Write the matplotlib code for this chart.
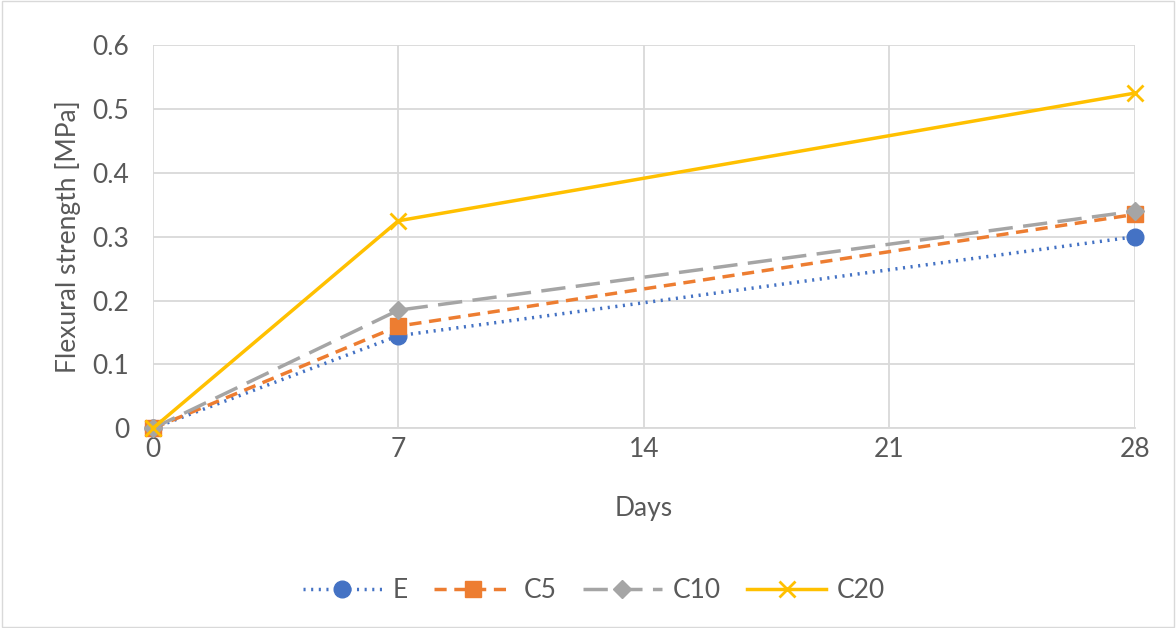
import matplotlib.pyplot as plt
import numpy as np

# dados
dias = [0, 7, 28]
e_vals = [0.0, 0.145, 0.30]
c5_vals = [0.0, 0.16, 0.335]
c10_vals = [0.0, 0.185, 0.34]
c20_vals = [0.0, 0.325, 0.525]
xticks = [0, 7, 14, 21, 28]
yticks = [0, 0.1, 0.2, 0.3, 0.4, 0.5, 0.6]
ytick_labels = ['0', '0.1', '0.2', '0.3', '0.4', '0.5', '0.6']

plt.rcParams['font.family'] = ['Lato', 'DejaVu Sans']

fig = plt.figure(figsize=(11.76, 6.28), dpi=100)
ax = fig.add_axes([0.130, 0.318, 0.835, 0.610])

cor_txt = '#595959'
fs = 19
ax.plot(dias, e_vals, color='#4472c4', lw=2.5, ls=(0, (0.6, 1.6)),
        marker='o', ms=12, label='E', clip_on=False, zorder=3)
ax.plot(dias, c5_vals, color='#ed7d31', lw=2.5, ls=(0, (3.5, 2.2)),
        marker='s', ms=11, label='C5', clip_on=False, zorder=3)
ax.plot(dias, c10_vals, color='#a5a5a5', lw=2.5, ls=(0, (7, 3)),
        marker='D', ms=9, label='C10', clip_on=False, zorder=3)
ax.plot(dias, c20_vals, color='#ffc000', lw=2.5, ls='-',
        marker='x', ms=11, mew=2, label='C20', clip_on=False, zorder=3)

ax.set_xlim(0, 28)
ax.set_ylim(0, 0.6)
ax.set_xticks(xticks)
ax.set_yticks(yticks)
ax.set_yticklabels(ytick_labels)
ax.grid(True, color='#d9d9d9', lw=1.3)
ax.set_axisbelow(True)
for s in ['top', 'right', 'left']:
    ax.spines[s].set_visible(False)
ax.spines['bottom'].set_color('#d9d9d9')
ax.spines['bottom'].set_linewidth(1.3)
ax.tick_params(length=0, labelsize=fs, labelcolor=cor_txt)
ax.tick_params(axis='y', pad=17)
ax.tick_params(axis='x', pad=6)

ax.set_xlabel('Days', fontsize=fs, color=cor_txt, labelpad=25)
ax.set_ylabel('Flexural strength [MPa]', fontsize=fs, color=cor_txt,
              labelpad=8)

fig.legend(loc='center', bbox_to_anchor=(0.505, 0.06), ncol=4, frameon=False,
           fontsize=fs, labelcolor=cor_txt, handlelength=3.0,
           handletextpad=0.4, columnspacing=1.0)

# borda
fig.patches.append(plt.Rectangle((0.002, 0.002), 0.996, 0.996,
                                 transform=fig.transFigure, fill=False,
                                 edgecolor='#d9d9d9', lw=1))

fig.savefig('out.png', dpi=100)
